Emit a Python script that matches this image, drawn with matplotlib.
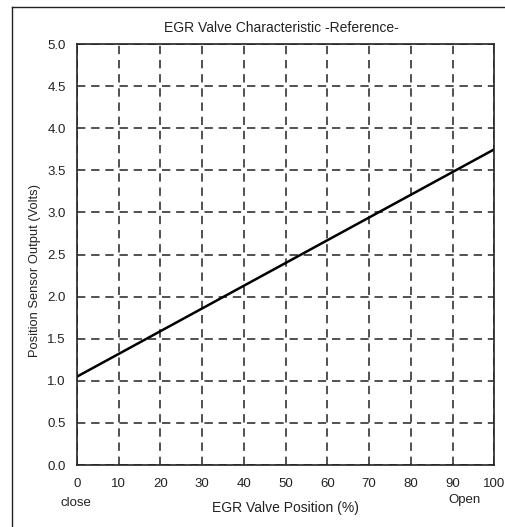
import matplotlib
matplotlib.use("Agg")
import matplotlib.pyplot as plt
from matplotlib.lines import Line2D

plt.rcParams['font.family'] = ['Liberation Sans', 'DejaVu Sans']

position = [0, 100]
voltage = [1.05, 3.75]
x_ticks = list(range(0, 101, 10))
y_ticks = [0.0, 0.5, 1.0, 1.5, 2.0, 2.5, 3.0, 3.5, 4.0, 4.5, 5.0]

fig = plt.figure(figsize=(5.05, 5.27), dpi=100)
ax = fig.add_axes([0.1525, 0.1176, 0.8265, 0.7989])

ax.plot(position, voltage, color='black', lw=1.8, zorder=3)
ax.set_xlim(0, 100)
ax.set_ylim(0, 5)
ax.set_xticks(x_ticks)
ax.set_yticks(y_ticks)
ax.set_yticklabels([f"{v:.1f}" for v in y_ticks])
ax.tick_params(length=0, labelsize=9.5, colors='#222222')
ax.tick_params(axis='x', pad=9)
ax.tick_params(axis='y', pad=8)
ax.grid(True, color='#333333', linestyle=(0, (5, 3.5)), lw=1.2)
for s in ax.spines.values():
    s.set_linewidth(1.2)
    s.set_color('#222222')
    s.set_zorder(4)

fig.text(0.557, 0.947, "EGR Valve Characteristic -Reference-", ha='center', va='center', fontsize=10, color='#222222')
fig.text(0.069, 0.486, "Position Sensor Output (Volts)", rotation=90, ha='center', va='center', fontsize=9.3, color='#222222')
fig.text(0.565, 0.036, "EGR Valve Position (%)", ha='center', va='center', fontsize=10, color='#222222')
fig.text(0.151, 0.046, "close", ha='center', va='center', fontsize=9.5, color='#222222')
fig.text(0.919, 0.051, "Open", ha='center', va='center', fontsize=9.5, color='#222222')

fig.add_artist(Line2D([0.024, 0.024], [0.0, 0.987], transform=fig.transFigure, color='#222222', lw=1.0))
fig.add_artist(Line2D([0.024, 1.0], [0.987, 0.987], transform=fig.transFigure, color='#222222', lw=1.0))

fig.savefig("out.png", dpi=100)
